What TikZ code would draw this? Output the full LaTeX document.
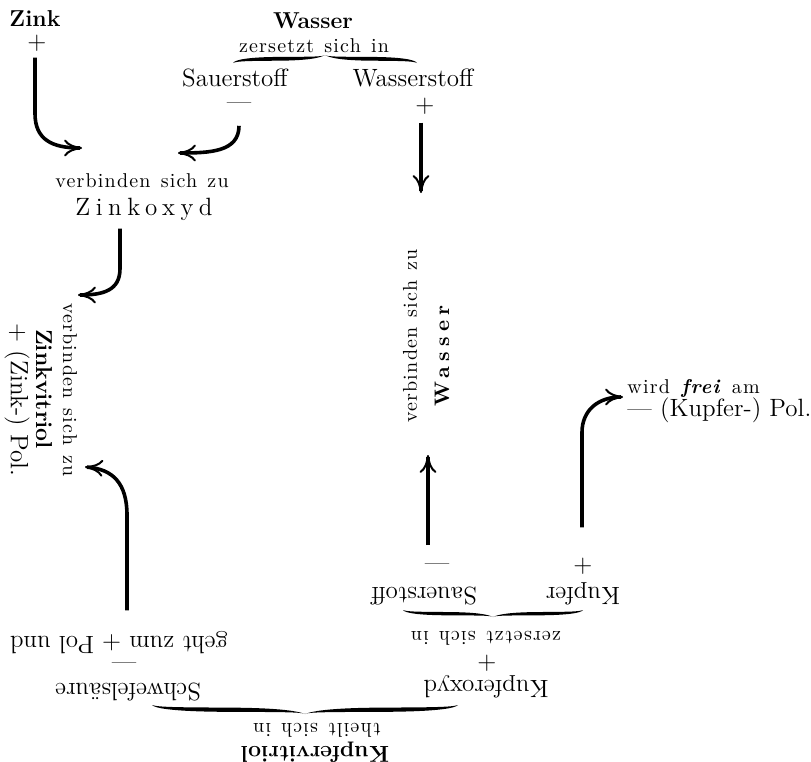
\documentclass[tikz,border=0pt]{standalone}
\usepackage{fontspec}
\setmainfont{Latin Modern Roman}
\newfontfamily\notefont[LetterSpace=6,WordSpace=1.3]{Latin Modern Roman}
\newfontfamily\widefont[LetterSpace=22]{Latin Modern Roman}
\newfontfamily\heavywidefont[LetterSpace=25]{Latin Modern Roman}
\usetikzlibrary{arrows.meta}

\begin{document}
\begin{tikzpicture}[x=0.5pt, y=-0.5pt,
      word/.style={inner sep=0pt, font=\fontsize{12.5}{15}\selectfont},
      note/.style={inner sep=0pt, font=\notefont\fontsize{10}{12}\selectfont},
      heavy/.style={inner sep=0pt, font=\fontsize{11.5}{14}\selectfont\bfseries},
      wide/.style={inner sep=0pt, font=\widefont\fontsize{12.5}{15}\selectfont},
      heavywide/.style={inner sep=0pt, font=\heavywidefont\fontsize{10.5}{13}\selectfont\bfseries},
      cw/.style={rotate=-90}, ccw/.style={rotate=90}, rot/.style={rotate=180},
      arr/.style={-{Computer Modern Rightarrow[length=9pt,width=8.5pt,line width=1pt]}, line width=1.8pt},
      halfbrace/.pic={\fill (0,0) .. controls (0.01,0.4) and (0.08,0.74) .. (0.25,0.76)
                        .. controls (0.42,0.78) and (0.49,0.78) .. (0.5,1)
                        .. controls (0.47,0.6) and (0.4,0.32) .. (0.25,0.29)
                        .. controls (0.1,0.26) and (0.02,0.26) .. cycle;}
  ]
    \useasboundingbox (0,0) rectangle (811,762);

    % Zink und Wasser
    \node[heavy] (zink) at (35,19) {Zink};
    \node[word] (zplus) at (37,43) {+};
    \node[heavy] (wasser) at (313,21) {Wasser};
    \node[note] (zers) at (314,46) {zersetzt sich in};
    \pic[xscale=184, yscale=-8] at (233,63) {halfbrace};
    \pic[xscale=-184, yscale=-8] at (417,63) {halfbrace};
    \node[word] (sauer) at (235,78) {Sauerstoff};
    \node[word] (wstoff) at (413,78) {Wasserstoff};
    \node[word] (sminus) at (239,106) {---};
    \node[word] (wplus) at (425,106) {+};
    \node[note] (verbzo) at (142,181) {verbinden sich zu};
    \node[wide] (zinkoxyd) at (144,209) {Zinkoxyd};

    % Zinkvitriol am Zinkpol
    \node[note, cw] (verbzv) at (70,390) {verbinden sich zu};
    \node[heavy, cw] (zinkvit) at (44,389) {Zinkvitriol};
    \node[word, cw] (zinkpol) at (17,400) {+ (Zink-) Pol.};

    % Wasser und Kupferpol
    \node[note, ccw] (verbwa) at (410,336) {verbinden sich zu};
    \node[heavywide, ccw] (wasserb) at (442,356) {Wasser};
    \node[note, anchor=west] (frei) at (627,388) {wird \textbf{\textit{frei}} am};
    \node[word, anchor=west] (kpol) at (627,410) {--- (Kupfer-) Pol.};

    % Kupfervitriol (umgekehrt)
    \node[word, rot] (geht) at (119,643) {geht zum + Pol und};
    \node[word] (gminus) at (124,666) {---};
    \node[word, rot] (schwefel) at (128,692) {Schwefelsäure};
    \node[word, rot] (sauerk) at (424,596) {Sauerstoff};
    \node[word] (kminus) at (437,567) {---};
    \node[word, rot] (kupfer) at (583,594) {Kupfer};
    \node[word] (kplus) at (583,566) {+};
    \pic[xscale=180, yscale=7] at (403,610) {halfbrace};
    \pic[xscale=-180, yscale=7] at (583,610) {halfbrace};
    \node[note, rot] (zersk) at (486,638) {zersetzt sich in};
    \node[word] (koxplus) at (487,663) {+};
    \node[word, rot] (kupferoxyd) at (486,687) {Kupferoxyd};
    \pic[xscale=306, yscale=9] at (152,705) {halfbrace};
    \pic[xscale=-306, yscale=9] at (458,705) {halfbrace};
    \node[note, rot] (theilt) at (317,730) {theilt sich in};
    \node[heavy, rot] (kupfervit) at (315,752) {Kupfervitriol};

    % arrow ends
    \coordinate (zin) at (82,148);
    \coordinate (oin) at (178,153);
    \coordinate (win) at (421,193);
    \coordinate (vin) at (78,295);
    \coordinate (sin) at (85,467);
    \coordinate (hin) at (428,455);
    \coordinate (kin) at (623,397);

    \draw[arr] (zplus.south) ++(-2,6) -- ++(0,56) .. controls +(0,26) and +(-30,0) .. (zin);
    \draw[arr] (sminus.south) ++(0,16) .. controls +(0,26) and +(32,0) .. (oin);
    \draw[arr] (win |- wplus.south) ++(0,8) -- (win);
    \draw[arr] (zinkoxyd.south) ++(-24,8) -- ++(0,40) .. controls +(0,22) and +(25,0) .. (vin);
    \draw[arr] (geht.south -| gminus) ++(3,-21) -- ++(0,-95) .. controls +(0,-32) and +(28,2) .. (sin);
    \draw[arr] (hin |- kminus.north) ++(0,-18) -- (hin);
    \draw[arr] (kplus.north) ++(-1,-30) -- ++(0,-95) .. controls +(0,-22) and +(-25,0) .. (kin);
  \end{tikzpicture}
\end{document}
